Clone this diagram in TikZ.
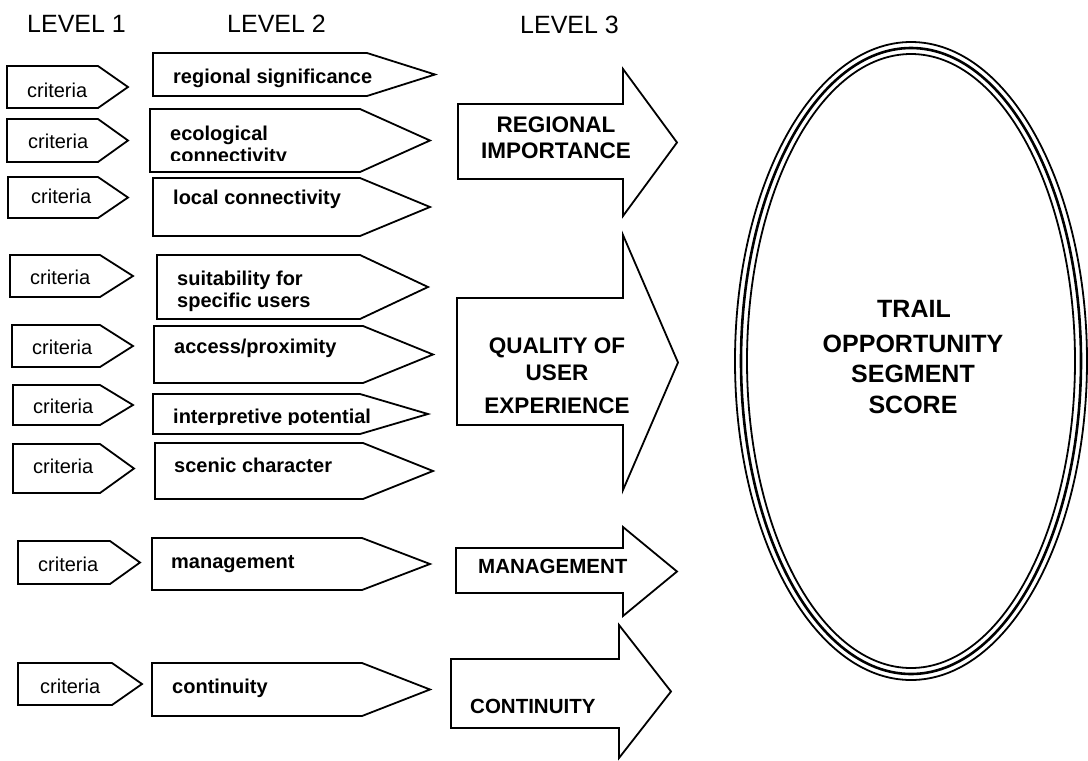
\documentclass[tikz,border=0pt]{standalone}
\usepackage{fontspec}
\setmainfont{Liberation Sans}
\begin{document}
\begin{tikzpicture}[x=1pt,y=-1pt,
  outline/.style={draw=black,line width=1.8pt,line join=miter,fill=white},
  hdr/.style={anchor=base west,inner sep=0pt,font=\fontsize{25}{28}\selectfont},
  crit/.style={anchor=base west,inner sep=0pt,font=\fontsize{20}{24}\selectfont},
  factor/.style={anchor=base west,inner sep=0pt,font=\fontsize{20}{24}\selectfont\bfseries},
  groupbig/.style={anchor=base,inner sep=0pt,font=\fontsize{22.5}{26}\selectfont\bfseries},
  groupsmall/.style={anchor=base west,inner sep=0pt,font=\fontsize{20.5}{24}\selectfont\bfseries},
  score/.style={anchor=base,inner sep=0pt,font=\fontsize{25}{28}\selectfont\bfseries},
  ring/.style={draw=black,line width=#1}]
\useasboundingbox (0,0) rectangle (1088,761);

% pointed tag: left x, top y, start of point, tip x, bottom y
\newcommand\tagshape[5]{\draw[outline] (#1,#2) -- (#3,#2) -- (#4,{(#2+#5)/2}) -- (#3,#5) -- (#1,#5) -- cycle;}
% block arrow: left x, shaft top, shaft bottom, neck x, head top, head bottom, tip x
\newcommand\blockarrow[7]{\draw[outline] (#1,#2) -- (#4,#2) -- (#4,#5) -- (#7,{(#5+#6)/2}) -- (#4,#6) -- (#4,#3) -- (#1,#3) -- cycle;}

% column headings
\node[hdr] (h1) at (27,32) {LEVEL 1};
\node[hdr] (h2) at (227,32) {LEVEL 2};
\node[hdr] (h3) at (520,33) {LEVEL 3};

% level 1 tags
\tagshape{7}{66}{98}{128}{108}
\tagshape{7}{119}{98}{128}{162}
\tagshape{8}{177}{98}{128}{218}
\tagshape{10}{255}{100}{133}{297}
\tagshape{12}{325}{100}{133}{367}
\tagshape{13}{385}{100}{133}{425}
\tagshape{13}{444}{100}{134}{493}
\tagshape{18}{541}{110}{140}{584}
\tagshape{18}{663}{112}{142}{705}
\node[crit] (c1) at (27,97) {criteria};
\node[crit] (c2) at (28,148) {criteria};
\node[crit] (c3) at (31,203) {criteria};
\node[crit] (c4) at (30,284) {criteria};
\node[crit] (c5) at (32,354) {criteria};
\node[crit] (c6) at (33,413) {criteria};
\node[crit] (c7) at (33,473) {criteria};
\node[crit] (c8) at (38,571) {criteria};
\node[crit] (c9) at (40,693) {criteria};

% level 2 tags
\tagshape{153}{53}{367}{435}{96}
\tagshape{150}{109}{360}{430}{172}
\tagshape{153}{178}{360}{430}{236}
\tagshape{157}{255}{360}{428}{319}
\tagshape{154}{326}{363}{433}{383}
\tagshape{153}{394}{360}{428}{434}
\tagshape{155}{443}{363}{433}{499}
\tagshape{152}{538}{362}{430}{590}
\tagshape{152}{663}{362}{430}{716}
\node[factor] (f1) at (173,83) {regional significance};
\node[factor] (f2) at (170,140) {ecological};
\begin{scope}
  \clip (150,120) rectangle (430,160.5);
  \node[factor] (f2b) at (170,162) {connectivity};
\end{scope}
\node[factor] (f3) at (173,204) {local connectivity};
\node[factor] (f4) at (177,285) {suitability for};
\node[factor] (f4b) at (177,307) {specific users};
\node[factor] (f5) at (174,353) {access/proximity};
\begin{scope}
  \clip (150,400) rectangle (430,424);
  \node[factor] (f6) at (173,423) {interpretive potential};
\end{scope}
\node[factor] (f7) at (174,472) {scenic character};
\node[factor] (f8) at (171,568) {management};
\node[factor] (f9) at (172,693) {continuity};

% level 3 arrows
\blockarrow{458}{104}{179}{623}{69}{216}{677}
\blockarrow{457}{298}{425}{623}{235}{490}{678}
\blockarrow{456}{548}{593}{623}{527}{616}{677}
\blockarrow{451}{659}{728}{619}{625}{758}{671}
\node[groupbig] (g1a) at (556,132) {REGIONAL};
\node[groupbig] (g1b) at (556,158) {IMPORTANCE};
\node[groupbig] (g2a) at (557,353) {QUALITY OF};
\node[groupbig] (g2b) at (557,380) {USER};
\node[groupbig] (g2c) at (557,413) {EXPERIENCE};
\node[groupsmall] (g3) at (478,573) {MANAGEMENT};
\node[groupsmall] (g4) at (470,713) {CONTINUITY};

% final score ring
\draw[ring=1.8pt] (911,361) ellipse [x radius=176pt, y radius=319pt];
\draw[ring=2.6pt] (911,361) ellipse [x radius=170pt, y radius=313pt];
\draw[ring=1.8pt] (911,361) ellipse [x radius=164pt, y radius=307pt];
\node[score] (s1) at (914,317) {TRAIL};
\node[score] (s2) at (913,352) {OPPORTUNITY};
\node[score] (s3) at (913,382) {SEGMENT};
\node[score] (s4) at (913,413) {SCORE};
\end{tikzpicture}
\end{document}
